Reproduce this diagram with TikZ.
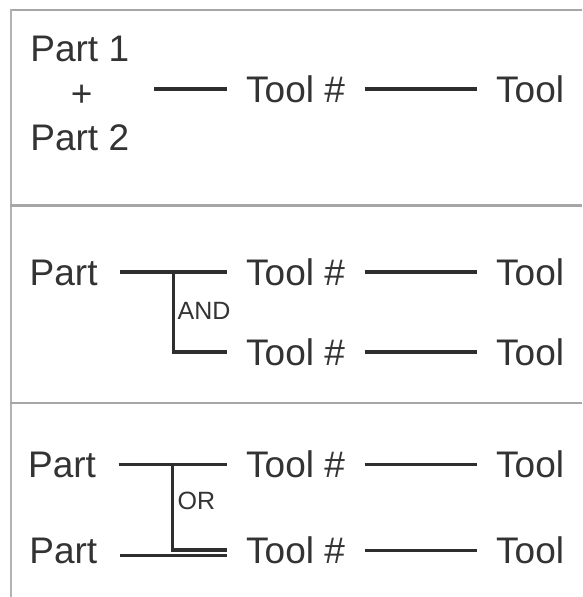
\documentclass[tikz,border=0pt]{standalone}
\usepackage{fontspec}
\setmainfont{Liberation Sans}
\begin{document}
\begin{tikzpicture}[x=1pt,y=-1pt,
  frame/.style={draw=black!35, line width=2.2pt},
  conn/.style={draw=black!82, line width=3.8pt, line join=miter},
  big/.style={font=\fontsize{37}{44}\selectfont, text=black!80, inner ysep=0pt,
              text height=26.5pt, text depth=0pt},
  partbox/.style={big, inner xsep=22.5pt, anchor=west},
  toolbox/.style={big, inner xsep=19.5pt, anchor=west},
  gate/.style={font=\fontsize{25}{30}\selectfont, text=black!80, inner sep=0pt, anchor=base west},
  stack/.style={font=\fontsize{37}{44}\selectfont, text=black!80, inner sep=0pt}]
\useasboundingbox[fill=white] (0,0) rectangle (582,597);

% table rules
\draw[frame] (582,10) -- (10,10);
\draw[draw=black!30, line width=1.5pt] (10.8,9) -- (10.8,597);
\draw[frame] (10,205.5) -- (582,205.5);
\draw[frame] (10,403.3) -- (582,403.3);

% row 1: two parts combined
\node[stack, anchor=base west] (p1) at (30.2,61.5) {Part 1};
\node[stack, anchor=base] (plus) at (81.7,106.5) {+};
\node[stack, anchor=base west] (p2) at (30.2,150.7) {Part 2};
\coordinate (s1) at (154,89.3);
\node[toolbox] (tn1) at (226.5,89.3) {Tool \#};
\node[toolbox] (to1) at (476.5,89.3) {Tool};
\draw[conn] (s1) -- (tn1.west);
\draw[conn] (tn1.east) -- (to1.west);

% row 2: AND branch
\node[partbox] (pa2) at (7,271.8) {Part};
\node[toolbox] (tn2a) at (226.5,271.8) {Tool \#};
\node[toolbox] (tn2b) at (226.5,352) {Tool \#};
\node[toolbox] (to2a) at (476.5,271.8) {Tool};
\node[toolbox] (to2b) at (476.5,352) {Tool};
\coordinate (j2) at (173.5,271.8);
\draw[conn] (pa2.east) -- (tn2a.west);
\draw[conn] (j2) |- (tn2b.west);
\draw[conn] (tn2a.east) -- (to2a.west);
\draw[conn] (tn2b.east) -- (to2b.west);
\node[gate] (and) at (177.5,319) {AND};

% row 3: OR branch
\node[partbox] (pa3) at (5.4,464.5) {Part};
\node[partbox] (pb3) at (6.7,550) {Part};
\node[toolbox] (tn3a) at (226.5,464.5) {Tool \#};
\node[toolbox] (tn3b) at (226.5,550.5) {Tool \#};
\node[toolbox] (to3a) at (476.5,464.5) {Tool};
\node[toolbox] (to3b) at (476.5,550.5) {Tool};
\coordinate (j3) at (172.5,464.5);
\coordinate (j3b) at (172.5,550);
\draw[conn] (pa3.east) -- (tn3a.west);
\draw[conn] (j3) -- (j3b) -- (j3b -| tn3b.west);
\draw[conn] ([yshift=-5.5pt]pb3.east) -- ([yshift=-5.5pt]pb3.east -| tn3b.west);
\draw[conn] (tn3a.east) -- (to3a.west);
\draw[conn] (tn3b.east) -- (to3b.west);
\node[gate] (or) at (177.5,509) {OR};
\end{tikzpicture}
\end{document}
